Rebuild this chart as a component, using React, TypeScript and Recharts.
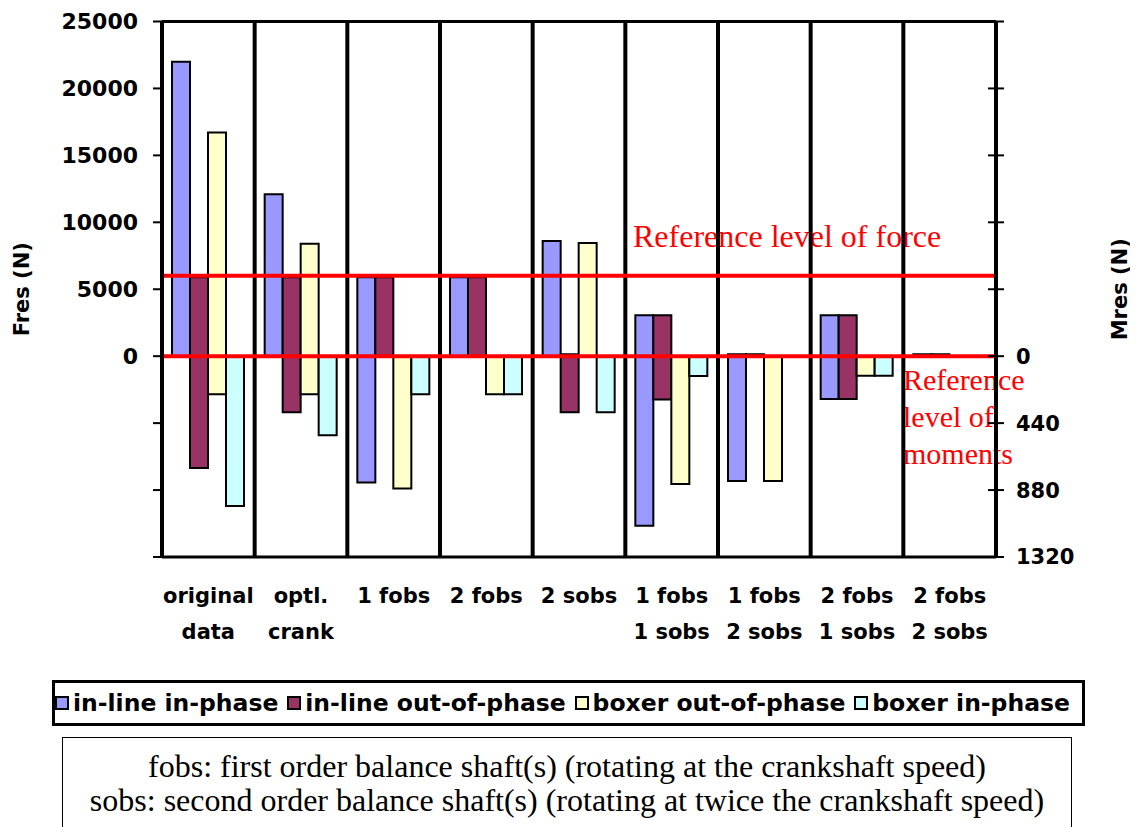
import React from 'react';
import {
  BarChart,
  Bar,
  XAxis,
  YAxis,
  CartesianGrid,
  ReferenceLine,
  Legend,
} from 'recharts';

// categories along the x axis ("\n" splits the label in two lines)
const categories = [
  'original\ndata',
  'optl.\ncrank',
  '1 fobs',
  '2 fobs',
  '2 sobs',
  '1 fobs\n1 sobs',
  '1 fobs\n2 sobs',
  '2 fobs\n1 sobs',
  '2 fobs\n2 sobs',
];

const seriesNames = ['in-line in-phase', 'in-line out-of-phase', 'boxer out-of-phase', 'boxer in-phase'];
const seriesColors = ['#9999FF', '#993366', '#FFFFCC', '#CCFFFF'];

// resultant force Fres (N), drawn upward on the left axis
const forceInlineInPhase = [22000, 12100, 5900, 5900, 8600, 3050, 150, 3050, 150];
const forceInlineOutPhase = [5900, 5900, 5900, 5900, 150, 3050, 150, 3050, 150];
const forceBoxerOutPhase = [16700, 8400, 0, 0, 8450, 0, 0, 0, 0];
const forceBoxerInPhase = [0, 0, 0, 0, 0, 0, 0, 0, 0];

// resultant moment Mres, drawn downward on the right axis
const momentInlineInPhase = [0, 0, 830, 0, 0, 1115, 820, 282, 0];
const momentInlineOutPhase = [735, 368, 0, 0, 368, 285, 0, 282, 0];
const momentBoxerOutPhase = [250, 250, 870, 250, 0, 840, 820, 128, 0];
const momentBoxerInPhase = [985, 520, 250, 250, 368, 130, 0, 128, 0];

const forceTicks = [0, 5000, 10000, 15000, 20000, 25000];
const momentTicks = [0, 440, 880, 1320];
const forceReference = 6000;

const forces = [forceInlineInPhase, forceInlineOutPhase, forceBoxerOutPhase, forceBoxerInPhase];
const moments = [momentInlineInPhase, momentInlineOutPhase, momentBoxerOutPhase, momentBoxerInPhase];

// one moment tick step sits at the same height as one force tick step
const momentToAxis = (m: number) => -(m / momentTicks[1]) * forceTicks[1];
const axisToMoment = (v: number) => Math.round((-v / forceTicks[1]) * momentTicks[1]);

const axisTicks = [...momentTicks.slice(1).reverse().map(momentToAxis), ...forceTicks];
const axisDomain = [axisTicks[0], axisTicks[axisTicks.length - 1]];

const data = categories.map((name, i) => {
  const row: any = { name };
  seriesNames.forEach((_, s) => {
    row['s' + s] = [momentToAxis(moments[s][i]), forces[s][i]];
  });
  return row;
});

const boldFont = '"DejaVu Sans", Arial, sans-serif';
const serifFont = '"Liberation Serif", "Times New Roman", serif';

const CategoryTick = (props: any) => {
  const { x, y, payload } = props;
  const lines = String(payload.value).split('\n');
  return (
    <text x={x} y={y} textAnchor="middle" fontFamily={boldFont} fontSize={21} fontWeight="bold" fill="#000">
      {lines.map((l, i) => (
        <tspan key={i} x={x} dy={i === 0 ? 46 : 36}>
          {l}
        </tspan>
      ))}
    </text>
  );
};

const MomentTick = (props: any) => {
  const { x, y, payload } = props;
  const v = payload.value;
  return (
    <g>
      <line x1={x - 28} x2={x - 20} y1={y} y2={y} stroke="#000" strokeWidth={2} />
      {v <= 0 && (
        <text x={x} y={y} dy="0.355em" textAnchor="start" fontFamily={boldFont} fontSize={21} fontWeight="bold" fill="#000">
          {axisToMoment(v)}
        </text>
      )}
    </g>
  );
};

const AxisTitle = (props: any) => {
  const { viewBox, text, dx } = props;
  const x = viewBox.x + dx;
  const y = viewBox.y + viewBox.height / 2;
  return (
    <text
      x={x}
      y={y}
      transform={`rotate(-90 ${x} ${y})`}
      textAnchor="middle"
      dominantBaseline="central"
      fontFamily={boldFont}
      fontSize={21}
      fontWeight="bold"
      fill="#000"
    >
      {text}
    </text>
  );
};

const LegendBox = () => (
  <div
    style={{
      boxSizing: 'border-box',
      height: 46,
      border: '3px solid #000',
      display: 'flex',
      alignItems: 'center',
      justifyContent: 'space-between',
      padding: '0 12px 0 0',
      fontFamily: boldFont,
      fontWeight: 'bold',
      fontSize: 23.5,
      color: '#000',
      whiteSpace: 'nowrap',
      background: '#fff',
    }}
  >
    {seriesNames.map((n, i) => (
      <span key={n} style={{ display: 'flex', alignItems: 'center' }}>
        <span
          style={{
            display: 'inline-block',
            boxSizing: 'border-box',
            width: 14,
            height: 14,
            border: '2px solid #000',
            background: seriesColors[i],
            marginRight: 4,
          }}
        />
        {n}
      </span>
    ))}
  </div>
);

const boundaries = ({ offset }: any) =>
  categories.map((_, i) => offset.left + (offset.width * i) / categories.length).slice(1);
const topAndBottom = ({ offset }: any) => [offset.top, offset.top + offset.height];

export default function App() {
  return (
    <div style={{ position: 'relative', width: 1130, height: 819, overflow: 'hidden' }}>
      <div
        style={{
          position: 'absolute',
          left: 625,
          top: 212,
          fontFamily: serifFont,
          fontSize: 32,
          lineHeight: '32px',
          color: '#FF0000',
          whiteSpace: 'nowrap',
        }}
      >
        Reference level of force
      </div>
      <div
        style={{
          position: 'absolute',
          left: 895,
          top: 353,
          fontFamily: serifFont,
          fontSize: 30,
          lineHeight: '37px',
          color: '#FF0000',
          whiteSpace: 'nowrap',
        }}
      >
        Reference
        <br />
        level of
        <br />
        moments
      </div>

      <div style={{ position: 'absolute', left: 0, top: 0, zIndex: 1 }}>
        <BarChart
          width={1130}
          height={720}
          data={data}
          margin={{ top: 13.5, right: 0, bottom: 2, left: 0 }}
          barSize={18}
          barGap={0}
        >
          <CartesianGrid
            yAxisId="left"
            vertical={false}
            horizontalCoordinatesGenerator={topAndBottom}
            stroke="#000"
            strokeWidth={3}
          />
          <CartesianGrid
            yAxisId="left"
            horizontal={false}
            verticalCoordinatesGenerator={boundaries}
            stroke="#000"
            strokeWidth={4}
          />
          <XAxis
            dataKey="name"
            type="category"
            interval={0}
            tickLine={false}
            axisLine={false}
            tickSize={0}
            tickMargin={0}
            height={123}
            tick={<CategoryTick />}
          />
          <YAxis
            yAxisId="left"
            orientation="left"
            width={154}
            type="number"
            domain={axisDomain}
            ticks={axisTicks}
            interval={0}
            allowDataOverflow
            tickSize={9}
            tickMargin={15}
            tickLine={{ stroke: '#000', strokeWidth: 2 }}
            axisLine={{ stroke: '#000', strokeWidth: 4 }}
            tickFormatter={(v: number) => (v >= 0 ? String(v) : '')}
            tick={{ fill: '#000', fontSize: 22, fontWeight: 'bold', fontFamily: boldFont }}
            label={<AxisTitle text="Fres (N)" dx={14} />}
          />
          <YAxis
            yAxisId="right"
            orientation="right"
            width={142}
            type="number"
            domain={axisDomain}
            ticks={axisTicks}
            interval={0}
            allowDataOverflow
            tickSize={8}
            tickMargin={12}
            tickLine={{ stroke: '#000', strokeWidth: 2 }}
            axisLine={{ stroke: '#000', strokeWidth: 4 }}
            tick={<MomentTick />}
            label={<AxisTitle text="Mres (N)" dx={124} />}
          />
          {seriesNames.map((n, i) => (
            <Bar
              key={n}
              yAxisId="left"
              dataKey={'s' + i}
              name={n}
              fill={seriesColors[i]}
              stroke="#000"
              strokeWidth={2}
              isAnimationActive={false}
            />
          ))}
          <ReferenceLine yAxisId="left" y={forceReference} stroke="#FF0000" strokeWidth={4} />
          <ReferenceLine yAxisId="right" y={0} stroke="#FF0000" strokeWidth={4} />
          <Legend
            verticalAlign="bottom"
            height={46}
            content={<LegendBox />}
            wrapperStyle={{ left: 44, width: 1033, bottom: 2 }}
          />
        </BarChart>
      </div>

      <div
        style={{
          position: 'absolute',
          left: 54,
          top: 729,
          width: 1010,
          height: 120,
          boxSizing: 'border-box',
          border: '1.5px solid #000',
          paddingTop: 10.5,
          textAlign: 'center',
          fontFamily: serifFont,
          fontSize: 32,
          lineHeight: '34px',
          color: '#000',
          whiteSpace: 'nowrap',
        }}
      >
        fobs: first order balance shaft(s) (rotating at the crankshaft speed)
        <br />
        sobs: second order balance shaft(s) (rotating at twice the crankshaft speed)
      </div>
    </div>
  );
}
